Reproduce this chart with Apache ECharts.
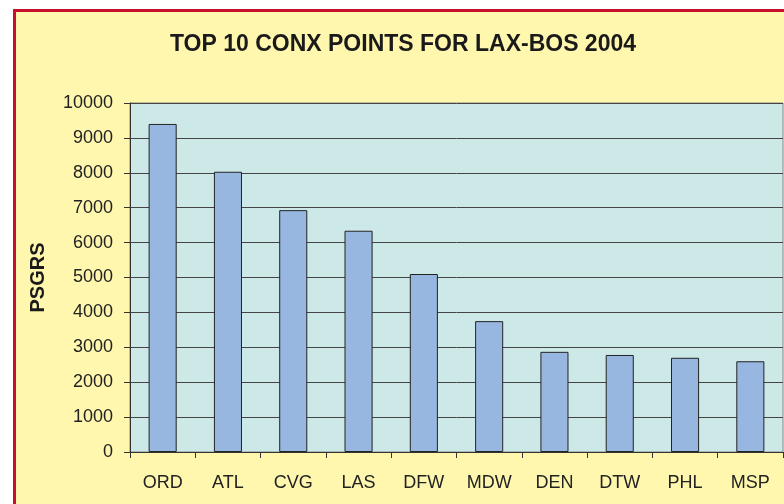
<!DOCTYPE html>
<html>
<head>
<meta charset="utf-8">
<script src="https://cdn.jsdelivr.net/npm/echarts@6/dist/echarts.min.js"></script>
<style>
  html, body { margin: 0; padding: 0; background: #fff; }
  #frame { position: absolute; left: 13px; top: 9px; width: 800px; height: 520px;
           border-left: 3px solid #c8102e; border-top: 3px solid #c8102e; background: #fff7ae; }
  #chart { position: absolute; left: 0; top: 0; width: 784px; height: 504px; }
</style>
</head>
<body>
<div id="frame"></div>
<div id="chart"></div>
<script>
var airports = ['ORD', 'ATL', 'CVG', 'LAS', 'DFW', 'MDW', 'DEN', 'DTW', 'PHL', 'MSP'];
var passengers = [9400, 8030, 6930, 6340, 5100, 3750, 2870, 2780, 2700, 2600];

var chart = echarts.init(document.getElementById('chart'));

var option = {
    backgroundColor: 'transparent',
    animation: false,
    title: {
        text: 'TOP 10 CONX POINTS FOR LAX-BOS 2004',
        left: 398,
        textAlign: 'center',
        top: 28,
        textStyle: {
            fontFamily: 'Liberation Sans',
            fontSize: 23,
            fontWeight: 'bold',
            color: '#1a1a1a'
        }
    },
    grid: {
        left: 130,
        top: 103,
        right: 1,
        bottom: 52,
        show: true,
        backgroundColor: '#cce9e8',
        borderColor: '#888',
        borderWidth: 1
    },
    xAxis: {
        type: 'category',
        data: airports,
        axisLine: { lineStyle: { color: '#333', width: 1 } },
        axisTick: { show: true, length: 6, lineStyle: { color: '#333' } },
        axisLabel: {
            margin: 22,
            fontFamily: 'Liberation Sans',
            fontSize: 18,
            color: '#222'
        }
    },
    yAxis: {
        type: 'value',
        min: 0,
        max: 10000,
        interval: 1000,
        name: 'PSGRS',
        nameLocation: 'middle',
        nameGap: 82,
        nameTextStyle: {
            fontFamily: 'Liberation Sans',
            fontSize: 20,
            fontWeight: 'bold',
            color: '#1a1a1a'
        },
        axisLine: { show: true, lineStyle: { color: '#333', width: 1 } },
        axisTick: { show: true, length: 6, lineStyle: { color: '#333' } },
        axisLabel: {
            margin: 17,
            fontFamily: 'Liberation Sans',
            fontSize: 18,
            color: '#222',
            formatter: function (v) { return String(v); }
        },
        splitLine: { show: true, lineStyle: { color: '#444', width: 1 } }
    },
    series: [
        {
            name: 'PSGRS',
            type: 'bar',
            barWidth: '43%',
            data: passengers,
            itemStyle: {
                color: '#97b6e0',
                borderColor: '#222',
                borderWidth: 1
            }
        }
    ]
};

chart.setOption(option);
</script>
</body>
</html>
